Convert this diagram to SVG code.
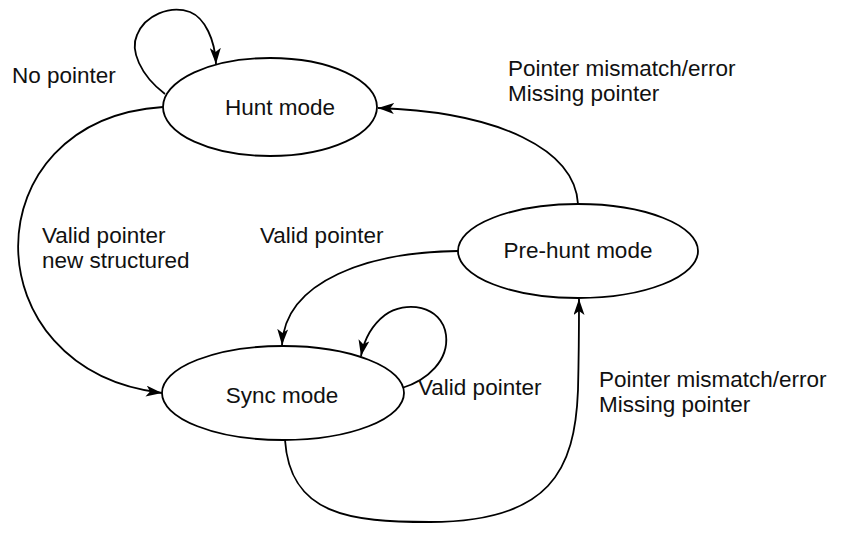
<svg xmlns="http://www.w3.org/2000/svg" width="842" height="538" viewBox="0 0 842 538">
<style>
  .node ellipse { fill: #fff; stroke: #000; stroke-width: 1.8; }
  text { font-family: "Liberation Sans", Arial, Helvetica, sans-serif; font-size: 22.5px; fill: #111; }
  .edge { fill: none; stroke: #000; stroke-width: 1.8; marker-end: url(#arr); }
</style>
<defs>
  <marker id="arr" markerUnits="userSpaceOnUse" markerWidth="17" markerHeight="11" refX="16" refY="5.5" orient="auto" viewBox="0 0 17 11">
    <path d="M0,0 L16,5.5 L0,11 L4,5.5 z" fill="#000"/>
  </marker>
</defs>
<rect width="842" height="538" fill="#fff"/>
<g id="connectors">
  <path class="edge" d="M165,94 C140,75 130,50 137,35 C145,15 170,5 190,12 C205,18 215,40 216,64"/>
  <path class="edge" d="M578,204 C575,150 500,112 378,108"/>
  <path class="edge" d="M163,107 C-30,120 -30,370 162,393"/>
  <path class="edge" d="M458,251 C370,252 285,280 282,345"/>
  <path class="edge" d="M402,388 C428,380 449,360 446,335 C442,305 405,300 385,315 C372,325 364,340 361,356"/>
  <path class="edge" d="M285,440 C290,515 350,522 430,522 C550,522 575,470 578,390 C579,350 579,320 579,299"/>
</g>
<g id="hunt" class="node">
  <ellipse cx="270" cy="107" rx="107" ry="49"/>
  <text x="280" y="115" text-anchor="middle">Hunt mode</text>
</g>
<g id="prehunt" class="node">
  <ellipse cx="578" cy="251" rx="120" ry="47"/>
  <text x="578" y="258" text-anchor="middle">Pre-hunt mode</text>
</g>
<g id="sync" class="node">
  <ellipse cx="283" cy="393" rx="121" ry="47"/>
  <text x="282" y="403" text-anchor="middle">Sync mode</text>
</g>
<g id="labels">
  <text x="12" y="83">No pointer</text>
  <text x="508" y="76">Pointer mismatch/error</text>
  <text x="508" y="101">Missing pointer</text>
  <text x="42" y="243">Valid pointer</text>
  <text x="42" y="268">new structured</text>
  <text x="260" y="243">Valid pointer</text>
  <text x="418" y="395">Valid pointer</text>
  <text x="599" y="387">Pointer mismatch/error</text>
  <text x="599" y="412">Missing pointer</text>
</g>
</svg>
